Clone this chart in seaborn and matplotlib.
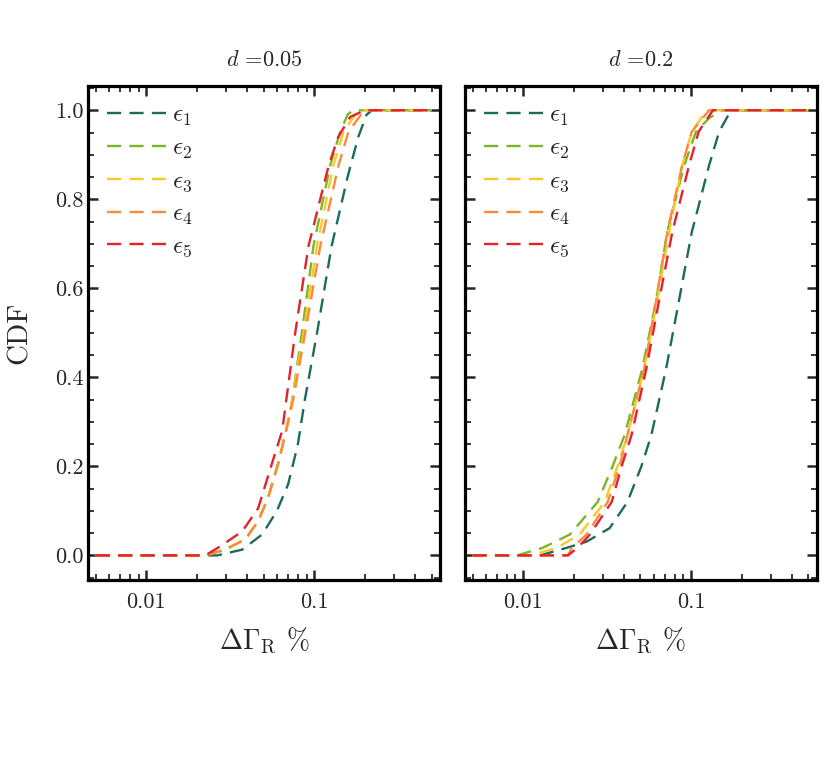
import numpy as np
import pandas as pd
import matplotlib
matplotlib.use("Agg")
import matplotlib.pyplot as plt
import matplotlib.ticker as mticker
import seaborn as sns

# legend labels and colours
eps_labels = [r"$\epsilon_1$", r"$\epsilon_2$", r"$\epsilon_3$", r"$\epsilon_4$", r"$\epsilon_5$"]
eps_colors = ["#1d6b5c", "#7cb52a", "#fdc827", "#f98b3b", "#e3222b"]
panel_titles = [r"$d$ =0.05", r"$d$ =0.2"]

# d = 0.05
x05_e1 = [0.005, 0.0265, 0.0373, 0.049, 0.060, 0.070, 0.080, 0.088, 0.104, 0.127, 0.158, 0.183, 0.205, 0.221, 0.5]
y05_e1 = [0, 0, 0.013, 0.047, 0.10, 0.16, 0.25, 0.35, 0.50, 0.695, 0.85, 0.94, 0.99, 1.0, 1.0]
x05_e2 = [0.005, 0.0225, 0.0295, 0.0389, 0.0464, 0.0532, 0.061, 0.069, 0.074, 0.0845, 0.099, 0.1245, 0.143, 0.158, 0.171, 0.5]
y05_e2 = [0, 0, 0.013, 0.036, 0.077, 0.13, 0.206, 0.29, 0.35, 0.50, 0.695, 0.876, 0.952, 0.99, 1.0, 1.0]
x05_e3 = [0.005, 0.0225, 0.0295, 0.0389, 0.0464, 0.0532, 0.061, 0.069, 0.074, 0.0865, 0.1038, 0.130, 0.1496, 0.175, 0.188, 0.5]
y05_e3 = [0, 0, 0.013, 0.036, 0.077, 0.13, 0.206, 0.29, 0.35, 0.50, 0.695, 0.876, 0.952, 0.99, 1.0, 1.0]
x05_e4 = [0.005, 0.0225, 0.0295, 0.0389, 0.0464, 0.0532, 0.061, 0.069, 0.075, 0.0884, 0.1087, 0.1396, 0.160, 0.19, 0.21, 0.5]
y05_e4 = [0, 0, 0.013, 0.036, 0.077, 0.13, 0.206, 0.29, 0.35, 0.50, 0.695, 0.876, 0.952, 0.99, 1.0, 1.0]
x05_e5 = [0.005, 0.0225, 0.0275, 0.0373, 0.0464, 0.056, 0.0645, 0.0771, 0.0925, 0.122, 0.139, 0.164, 0.20, 0.5]
y05_e5 = [0, 0, 0.02, 0.054, 0.106, 0.206, 0.28, 0.50, 0.695, 0.876, 0.94, 0.985, 1.0, 1.0]

# d = 0.2
x2_e1 = [0.005, 0.0126, 0.0182, 0.0239, 0.0327, 0.0418, 0.0506, 0.058, 0.0711, 0.085, 0.101, 0.128, 0.147, 0.173, 0.5]
y2_e1 = [0, 0, 0.017, 0.031, 0.061, 0.12, 0.20, 0.27, 0.42, 0.575, 0.726, 0.876, 0.952, 1.0, 1.0]
x2_e2 = [0.005, 0.0092, 0.0131, 0.019, 0.0278, 0.0341, 0.0402, 0.0513, 0.0621, 0.0721, 0.091, 0.107, 0.128, 0.152, 0.5]
y2_e2 = [0, 0, 0.017, 0.047, 0.12, 0.20, 0.27, 0.42, 0.575, 0.726, 0.876, 0.952, 0.982, 1.0, 1.0]
x2_e3 = [0.005, 0.011, 0.0159, 0.0217, 0.0306, 0.0365, 0.0418, 0.0527, 0.063, 0.074, 0.0885, 0.101, 0.124, 0.5]
y2_e3 = [0, 0, 0.017, 0.047, 0.12, 0.20, 0.27, 0.42, 0.575, 0.726, 0.876, 0.952, 1.0, 1.0]
x2_e4 = [0.005, 0.0185, 0.0195, 0.0239, 0.0319, 0.0375, 0.0418, 0.0527, 0.0621, 0.0721, 0.0885, 0.101, 0.128, 0.5]
y2_e4 = [0, 0, 0.017, 0.047, 0.12, 0.20, 0.27, 0.42, 0.575, 0.726, 0.876, 0.952, 1.0, 1.0]
x2_e5 = [0.005, 0.0185, 0.0211, 0.025, 0.0337, 0.0386, 0.0442, 0.0542, 0.0647, 0.0773, 0.0973, 0.111, 0.135, 0.5]
y2_e5 = [0, 0, 0.017, 0.047, 0.12, 0.20, 0.27, 0.42, 0.575, 0.726, 0.876, 0.952, 1.0, 1.0]

panels = [
    [(x05_e1, y05_e1), (x05_e2, y05_e2), (x05_e3, y05_e3), (x05_e4, y05_e4), (x05_e5, y05_e5)],
    [(x2_e1, y2_e1), (x2_e2, y2_e2), (x2_e3, y2_e3), (x2_e4, y2_e4), (x2_e5, y2_e5)],
]

sns.set_style("ticks")
plt.rcParams["font.family"] = ["cmr10"]
plt.rcParams["mathtext.fontset"] = "cm"
plt.rcParams["axes.formatter.use_mathtext"] = True
plt.rcParams["axes.unicode_minus"] = False

fig, axes = plt.subplots(1, 2, sharey=True, figsize=(8.3, 7.59), dpi=100)
fig.subplots_adjust(left=0.106, right=0.984, bottom=0.236, top=0.887, wspace=0.071)

for ax, series, title in zip(axes, panels, panel_titles):
    rows = []
    for lab, (xs, ys) in zip(eps_labels, series):
        rows.append(pd.DataFrame({"x": xs, "cdf": ys, "eps": lab}))
    df = pd.concat(rows, ignore_index=True)
    sns.lineplot(data=df, x="x", y="cdf", hue="eps", style="eps",
                 palette=eps_colors, dashes={l: (6, 3.5) for l in eps_labels},
                 estimator=None, sort=False, lw=1.7, ax=ax)

    ax.set_xscale("log")
    ax.set_xlim(0.0045, 0.56)
    ax.set_ylim(-0.055, 1.055)
    ax.xaxis.set_major_locator(mticker.FixedLocator([0.01, 0.1]))
    ax.xaxis.set_major_formatter(mticker.FuncFormatter(lambda v, _: f"{v:g}"))
    ax.xaxis.set_minor_locator(mticker.LogLocator(base=10, subs=np.arange(2, 10)))
    ax.xaxis.set_minor_formatter(mticker.NullFormatter())
    ax.yaxis.set_major_locator(mticker.MultipleLocator(0.2))
    ax.yaxis.set_major_formatter(mticker.FormatStrFormatter("%.1f"))
    ax.yaxis.set_minor_locator(mticker.AutoMinorLocator(4))
    ax.tick_params(which="both", direction="in", top=True, right=True, labelsize=16)
    ax.tick_params(which="major", length=7, width=1.8)
    ax.tick_params(which="minor", length=4, width=1.3)
    ax.tick_params(axis="x", which="major", pad=9)
    ax.tick_params(axis="y", which="major", pad=3)
    for sp in ax.spines.values():
        sp.set_linewidth(2.3)
        sp.set_color("black")

    ax.set_title(title, fontsize=16, pad=14)
    ax.set_xlabel(r"$\Delta\Gamma_{\rm R}$ %", fontsize=20, labelpad=10)
    ax.set_ylabel("CDF", fontsize=21, labelpad=16)

    handles, labels = ax.get_legend_handles_labels()
    ax.legend(handles, labels, loc="upper left", frameon=False, fontsize=18,
              handlelength=2.4, handletextpad=0.2, labelspacing=0.36,
              borderaxespad=0.35)

axes[1].set_ylabel("")
fig.savefig("out.png", dpi=100)
